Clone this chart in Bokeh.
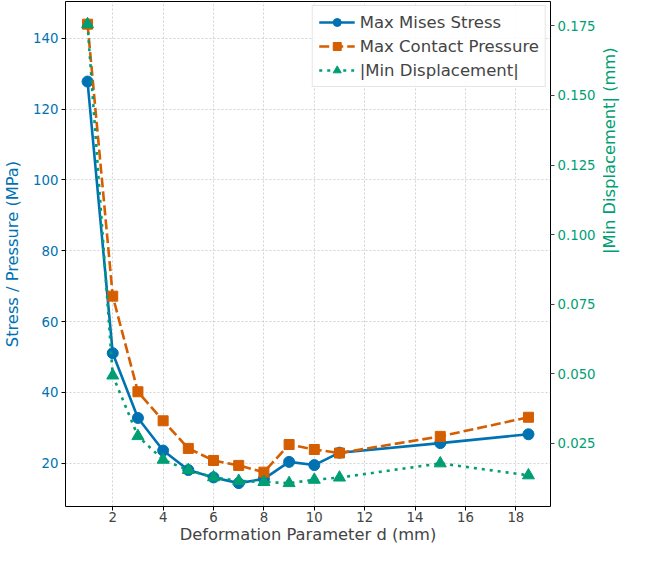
from bokeh.plotting import figure
from bokeh.models import Range1d, LinearAxis, SingleIntervalTicker, Legend, LegendItem, PrintfTickFormatter
from bokeh.embed import file_html
from bokeh.resources import INLINE
import math

d_vals = [1, 2, 3, 4, 5, 6, 7, 8, 9, 10, 11, 15, 18.5]
mises = [127.8, 51.1, 32.8, 23.6, 18.1, 16.0, 14.4, 15.6, 20.4, 19.5, 23.0, 25.7, 28.2]
contact = [144.0, 67.2, 40.2, 32.0, 24.2, 20.8, 19.4, 17.5, 25.3, 23.9, 22.9, 27.6, 33.0]
disp = [0.1756, 0.0493, 0.0275, 0.0190, 0.0153, 0.0127, 0.0114, 0.0110, 0.0106, 0.0118, 0.0126, 0.0177, 0.0134]

BLUE = "#0072B2"
ORANGE = "#D55E00"
GREEN = "#009E73"
FONT = "DejaVu Sans"

p = figure(width=631, height=546, output_backend="svg", toolbar_location=None,
           x_range=Range1d(0.125, 19.375), y_range=Range1d(7.8, 150.4),
           min_border_left=59, min_border_top=1, min_border_bottom=10, min_border_right=10)
p.extra_y_ranges = {"disp": Range1d(0.0022, 0.1838)}

p.outline_line_color = "black"
p.outline_line_width = 1
p.background_fill_color = "white"
p.border_fill_color = "white"

for g in (p.xgrid, p.ygrid):
    g.grid_line_color = "#b0b0b0"
    g.grid_line_dash = "2 2"
    g.grid_line_alpha = 0.7
    g.grid_line_width = 0.8

xa = p.xaxis[0]
xa.ticker = SingleIntervalTicker(interval=2)
xa.axis_label = "Deformation Parameter d (mm)"
ya = p.yaxis[0]
ya.ticker = SingleIntervalTicker(interval=20)
ya.axis_label = "Stress / Pressure (MPa)"
ya.axis_label_text_color = BLUE
ya.major_label_text_color = BLUE

ra = LinearAxis(y_range_name="disp", ticker=SingleIntervalTicker(interval=0.025),
                formatter=PrintfTickFormatter(format="%.3f"),
                axis_label="|Min Displacement| (mm)")
ra.axis_label_text_color = GREEN
ra.major_label_text_color = GREEN
ra.axis_label_orientation = math.pi / 2
p.add_layout(ra, "right")

for ax in (xa, ya, ra):
    ax.axis_label_text_font = FONT
    ax.axis_label_text_font_style = "normal"
    ax.axis_label_text_font_size = "16.3px"
    ax.major_label_text_font = FONT
    ax.major_label_text_font_size = "13.3px"
    ax.minor_tick_line_color = None
    ax.major_tick_out = 4
    ax.major_tick_in = 0
    ax.axis_line_color = None
    ax.major_tick_line_color = "black"
    ax.major_label_standoff = 3
    ax.axis_label_standoff = 3
xa.major_label_standoff = 1
xa.axis_label_standoff = 0
ya.axis_label_standoff = 8
ra.axis_label_standoff = 11
ra.major_tick_line_color = "#444444"

# series
l1 = p.line(d_vals, mises, line_color=BLUE, line_width=2.6)
s1 = p.scatter(d_vals, mises, marker="circle", size=11, fill_color=BLUE, line_color=BLUE)
l2 = p.line(d_vals, contact, line_color=ORANGE, line_width=2.6, line_dash="10 4")
s2 = p.scatter(d_vals, contact, marker="square", size=10, fill_color=ORANGE, line_color=ORANGE)
l3 = p.line(d_vals, disp, line_color=GREEN, line_width=2.6, line_dash="3 5", y_range_name="disp")
s3 = p.scatter(d_vals, disp, marker="triangle", size=12, fill_color=GREEN, line_color=GREEN, y_range_name="disp")

legend = Legend(items=[
    LegendItem(label="Max Mises Stress", renderers=[l1, s1]),
    LegendItem(label="Max Contact Pressure", renderers=[l2, s2]),
    LegendItem(label="|Min Displacement|", renderers=[l3, s3]),
], location="top_right")
legend.label_text_font = FONT
legend.label_text_font_size = "16.5px"
legend.label_height = 20
legend.glyph_height = 20
legend.border_line_color = "#cccccc"
legend.border_line_width = 1
legend.background_fill_alpha = 0.85
legend.glyph_width = 36
legend.spacing = 4
legend.padding = 6
legend.margin = 4
p.add_layout(legend, "center")

open("out.html", "w").write(file_html(p, INLINE))
